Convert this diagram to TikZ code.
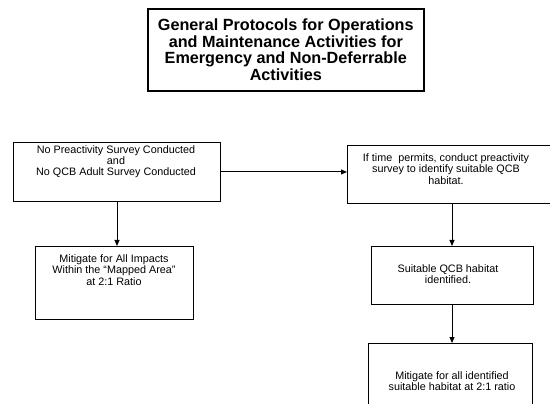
\documentclass[tikz,border=0pt]{standalone}
\usepackage{fontspec}
\setmainfont{Liberation Sans}
\usetikzlibrary{arrows.meta}
\begin{document}
\begin{tikzpicture}[x=1pt,y=-1pt,
  box/.style={draw=black,line width=0.9pt,rectangle,inner sep=0pt,anchor=north west},
  titlebox/.style={draw=black,line width=1.6pt,rectangle,inner sep=0pt,anchor=north west},
  label/.style={align=center,font=\fontsize{10.8}{11.2}\selectfont,inner sep=0pt},
  flow/.style={line width=0.9pt,-{Triangle[length=6pt,width=5pt]}}]
\useasboundingbox (0,0) rectangle (550,404);
\fill[white] (0,0) rectangle (550,404);
\begin{scope}
\clip (0,0) rectangle (550,404);
% heading
\node[titlebox,minimum width=276pt,minimum height=82pt] (head) at (147,8) {};
\node[align=center,font=\bfseries\fontsize{16.2}{16.8}\selectfont,inner sep=0pt] (headtext) at (head.center) {General Protocols for Operations\\and Maintenance Activities for\\Emergency and Non-Deferrable\\Activities};
% left branch
\node[box,minimum width=207pt,minimum height=59pt] (noSurvey) at (13,142) {};
\node[label] (noSurveyText) at (116,162) {No Preactivity Survey Conducted\\and\\No QCB Adult Survey Conducted};
\node[box,minimum width=158pt,minimum height=73pt] (mitigateAll) at (35,246) {};
\node[label] (mitigateAllText) at (114,270) {Mitigate for All Impacts\\Within the “Mapped Area”\\at 2:1 Ratio};
% right branch
\node[box,minimum width=206pt,minimum height=58pt] (survey) at (347,145) {};
\node[label] (surveyText) at (446,169) {If time\ \ permits, conduct preactivity\\survey to identify suitable QCB\\habitat.};
\node[box,minimum width=162pt,minimum height=58pt] (found) at (371,246) {};
\node[label] (foundText) at (448,274) {Suitable QCB habitat\\identified.};
\node[box,minimum width=164pt,minimum height=80pt] (mitigateFound) at (368,343) {};
\node[label] (mitigateFoundText) at (452,381) {Mitigate for all identified\\suitable habitat at 2:1 ratio};
% vertical axes of the downward connectors
\coordinate (leftAxis) at (117,0);
\coordinate (rightAxis) at (452,0);
% connectors
\draw[flow] (noSurvey.east) -- (survey.west |- noSurvey.east);
\draw[flow] (noSurvey.south -| leftAxis) -- (mitigateAll.north -| leftAxis);
\draw[flow] (survey.south -| rightAxis) -- (found.north -| rightAxis);
\draw[flow] (found.south -| rightAxis) -- (mitigateFound.north -| rightAxis);
\end{scope}
\end{tikzpicture}
\end{document}
